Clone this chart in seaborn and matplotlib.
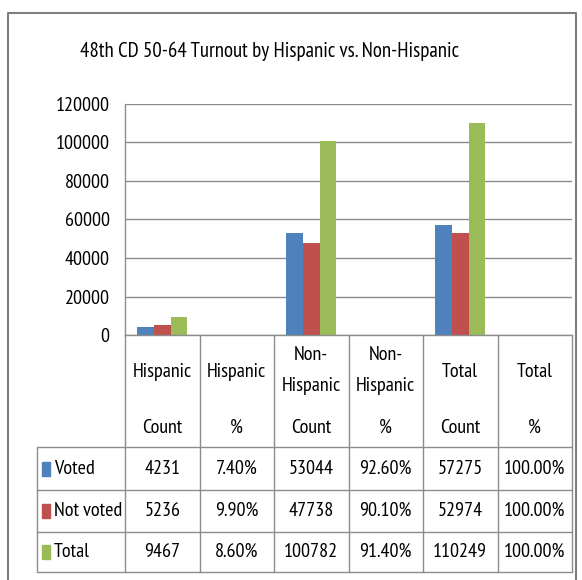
import matplotlib
matplotlib.use('Agg')
import matplotlib.pyplot as plt
import pandas as pd
import seaborn as sns

# chart data
categories = ['Hispanic Count', 'Hispanic %', 'Non-Hispanic Count',
              'Non-Hispanic %', 'Total Count', 'Total %']
header_top = ['Hispanic', 'Hispanic', 'Non-\nHispanic', 'Non-\nHispanic', 'Total', 'Total']
header_bottom = ['Count', '%', 'Count', '%', 'Count', '%']
series = ['Voted', 'Not voted', 'Total']
voted = [4231, 0.074, 53044, 0.926, 57275, 1.0]
not_voted = [5236, 0.099, 47738, 0.901, 52974, 1.0]
total = [9467, 0.086, 100782, 0.914, 110249, 1.0]
colors = ['#4F81BD', '#C0504D', '#9BBB59']

rows = []
for name, vals in zip(series, [voted, not_voted, total]):
    for cat, v in zip(categories, vals):
        rows.append({'category': cat, 'series': name, 'value': v})
df = pd.DataFrame(rows)

sns.set_style('white')
plt.rcParams['font.family'] = ['PT Sans Narrow', 'Carlito', 'DejaVu Sans']
plt.rcParams['text.color'] = '#000000'
plt.rcParams['ytick.color'] = '#000000'

W, H = 582, 580
FS = 14.5
fig = plt.figure(figsize=(W / 100, H / 100), dpi=100)

# pixel layout
x0, x1 = 125, 572
y_top, y_zero = 104, 335
ax = fig.add_axes([x0 / W, 1 - y_zero / H, (x1 - x0) / W, (y_zero - y_top) / H])

sns.barplot(data=df, x='category', y='value', hue='series', order=categories,
            hue_order=series, palette=colors, saturation=1, width=0.67,
            linewidth=0, ax=ax, legend=False)
ax.set_ylim(0, 120000)
ax.set_yticks(range(0, 120001, 20000))
ax.set_yticklabels([str(v) for v in range(0, 120001, 20000)], fontsize=FS)
ax.set_xticks([])
ax.set_xlabel('')
ax.set_ylabel('')
ax.yaxis.grid(True, color='#8c8c8c', linewidth=1)
ax.set_axisbelow(True)
ax.tick_params(axis='y', length=0, pad=11)
for s in ['top', 'right']:
    ax.spines[s].set_visible(False)
for s in ['left', 'bottom']:
    ax.spines[s].set_color('#8c8c8c')
    ax.spines[s].set_linewidth(1)

# overlay for frame, title and data table (pixel coordinates)
ov = fig.add_axes([0, 0, 1, 1], zorder=-1)
ov.set_xlim(0, W)
ov.set_ylim(H, 0)
ov.axis('off')
ov.patch.set_alpha(0)

lc = '#8c8c8c'
# outer chart frame
ov.plot([8, 8, 576, 576], [H, 13, 13, H], color='#7f7f7f', lw=1.5)

ov.text(269, 51, '48th CD 50-64 Turnout by Hispanic vs. Non-Hispanic',
        ha='center', va='center', fontsize=15)

ncol = len(categories)
cw = (x1 - x0) / ncol
row_y = [447, 490, 532, 572]
# vertical lines
for i in range(ncol + 1):
    ov.plot([x0 + i * cw] * 2, [y_zero, row_y[-1]], color=lc, lw=1)
ov.plot([37, 37], [row_y[0], row_y[-1]], color=lc, lw=1)
for y in row_y:
    ov.plot([37, x1], [y, y], color=lc, lw=1)

# header labels
for i in range(ncol):
    cx = x0 + (i + 0.5) * cw
    top = header_top[i]
    if '\n' in top:
        a, b = top.split('\n')
        ov.text(cx, 355, a, ha='center', va='center', fontsize=FS)
        ov.text(cx, 386, b, ha='center', va='center', fontsize=FS)
    else:
        ov.text(cx, 372, top, ha='center', va='center', fontsize=FS)
    ov.text(cx, 428, header_bottom[i], ha='center', va='center', fontsize=FS)

# data rows
for r, (name, vals, col) in enumerate(zip(series, [voted, not_voted, total], colors)):
    cy = (row_y[r] + row_y[r + 1]) / 2
    ov.add_patch(plt.Rectangle((42, cy - 7), 8, 14, color=col))
    ov.text(54, cy, name, ha='left', va='center', fontsize=FS)
    for i, v in enumerate(vals):
        cx = x0 + (i + 0.5) * cw
        txt = f'{v * 100:.2f}%' if header_bottom[i] == '%' else f'{int(v)}'
        ov.text(cx, cy, txt, ha='center', va='center', fontsize=FS)

fig.savefig('out.png', dpi=100)
